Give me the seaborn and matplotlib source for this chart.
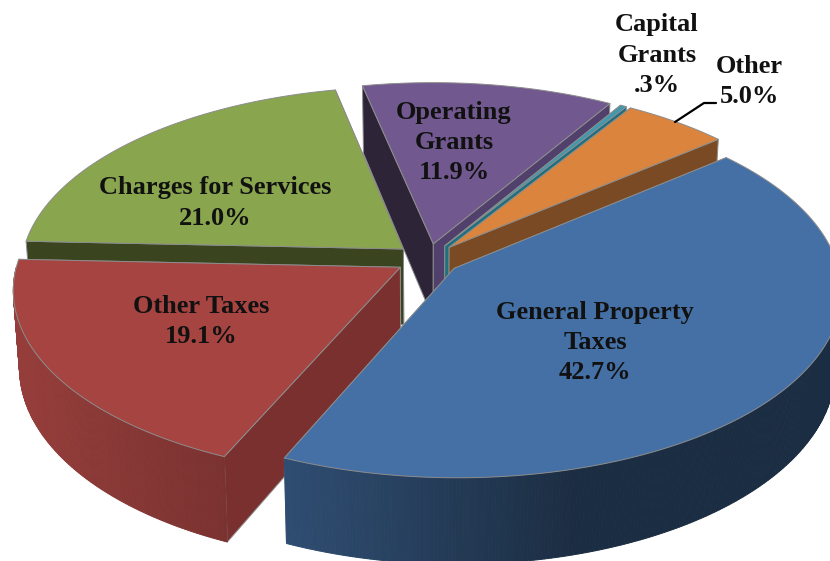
import numpy as np
import seaborn as sns
import matplotlib.pyplot as plt

# share of revenue, clockwise from the upper right
categories = ['General Property Taxes', 'Other Taxes', 'Charges for Services',
              'Operating Grants', 'Capital Grants', 'Other']
shares = [42.7, 19.1, 21.0, 11.9, 0.3, 5.0]
labels = ['General Property\nTaxes\n42.7%', 'Other Taxes\n19.1%', 'Charges for Services\n21.0%',
          'Operating\nGrants\n11.9%', 'Capital\nGrants\n.3%', 'Other\n5.0%']
top_colors = ['#4470a5', '#a54441', '#89a54e', '#71588f', '#4198af', '#db843d']
start_cut = ['#2c4a6e', '#7a302e', '#3a441e', '#2e2438', '#1f6f7f', '#7a4a24']
end_cut = ['#2c4a6e', '#7a302e', '#3a441e', '#50406b', '#1f6f7f', '#7a4a24']
label_pos = [(595, 342.5), (201, 321.5), (215, 203), (454, 142.5), (657, 55), (749, 81.5)]

# camera / pie set-up, in pixels of the reference
cx, cy = 428, 259
radius, squash_r = 382, 183
persp = 0.115
depth = 76
explode = 0.085
start_angle = 40

sns.set_theme(style='white')
plt.rcParams['font.family'] = ['Liberation Serif', 'DejaVu Serif']


def project(x, y, low=False):
    scale = 1 / (1 + persp * y)
    sx = cx + radius * x * scale * (0.985 if low else 1)
    sy = cy - squash_r * y * scale + (depth * scale if low else 0)
    return sx, sy


def shade(color, amount):
    return tuple(c * amount for c in sns.color_palette([color])[0])


fig, ax = plt.subplots(figsize=(8.3, 5.61), dpi=100)
fig.subplots_adjust(0, 0, 1, 1)
ax.set_xlim(0, 830)
ax.set_ylim(561, 0)
ax.axis('off')

edges = start_angle - np.cumsum([0] + shares) * 3.6
line = dict(edgecolor='#8c8c8c', linewidth=0.7, joinstyle='round')

for i in [2, 3, 4, 5, 1, 0]:
    a0, a1 = np.radians(edges[i]), np.radians(edges[i + 1])
    mid = (a0 + a1) / 2
    ox, oy = explode * np.cos(mid), explode * np.sin(mid)
    theta = np.linspace(a0, a1, max(int(abs(a1 - a0) * 120), 3))
    rx, ry = ox + np.cos(theta), oy + np.sin(theta)

    # the two cut faces, farther one first
    cuts = sorted(((a1, end_cut[i]), (a0, start_cut[i])), key=lambda c: -np.sin(c[0]))
    for a, col in cuts:
        ex, ey = ox + np.cos(a), oy + np.sin(a)
        pts = [project(ox, oy), project(ex, ey), project(ex, ey, True), project(ox, oy, True)]
        ax.fill(*zip(*pts), facecolor=col, **line)

    # outer wall, front half only, in strips so it can darken towards the right
    for j in range(len(theta) - 1):
        if np.sin(theta[j]) > 0:
            continue
        amount = np.interp(rx[j], [-1, -0.4, 0.35], [0.9, 0.72, 0.4])
        col = shade(top_colors[i], amount)
        pts = [project(rx[j], ry[j]), project(rx[j + 1], ry[j + 1]),
               project(rx[j + 1], ry[j + 1], True), project(rx[j], ry[j], True)]
        ax.fill(*zip(*pts), facecolor=col, edgecolor=col, linewidth=0.7)

    # top face
    tx, ty = project(np.r_[ox, rx], np.r_[oy, ry])
    ax.fill(tx, ty, facecolor=top_colors[i], **line)

ax.plot([675, 704, 716], [122, 103, 103], color='black', lw=1.6)

for text, (x, y) in zip(labels, label_pos):
    ax.text(x, y, text, ha='center', va='center', fontsize=19, fontweight='bold',
            color='#111111', linespacing=1.4)

plt.savefig('out.png', dpi=100)
